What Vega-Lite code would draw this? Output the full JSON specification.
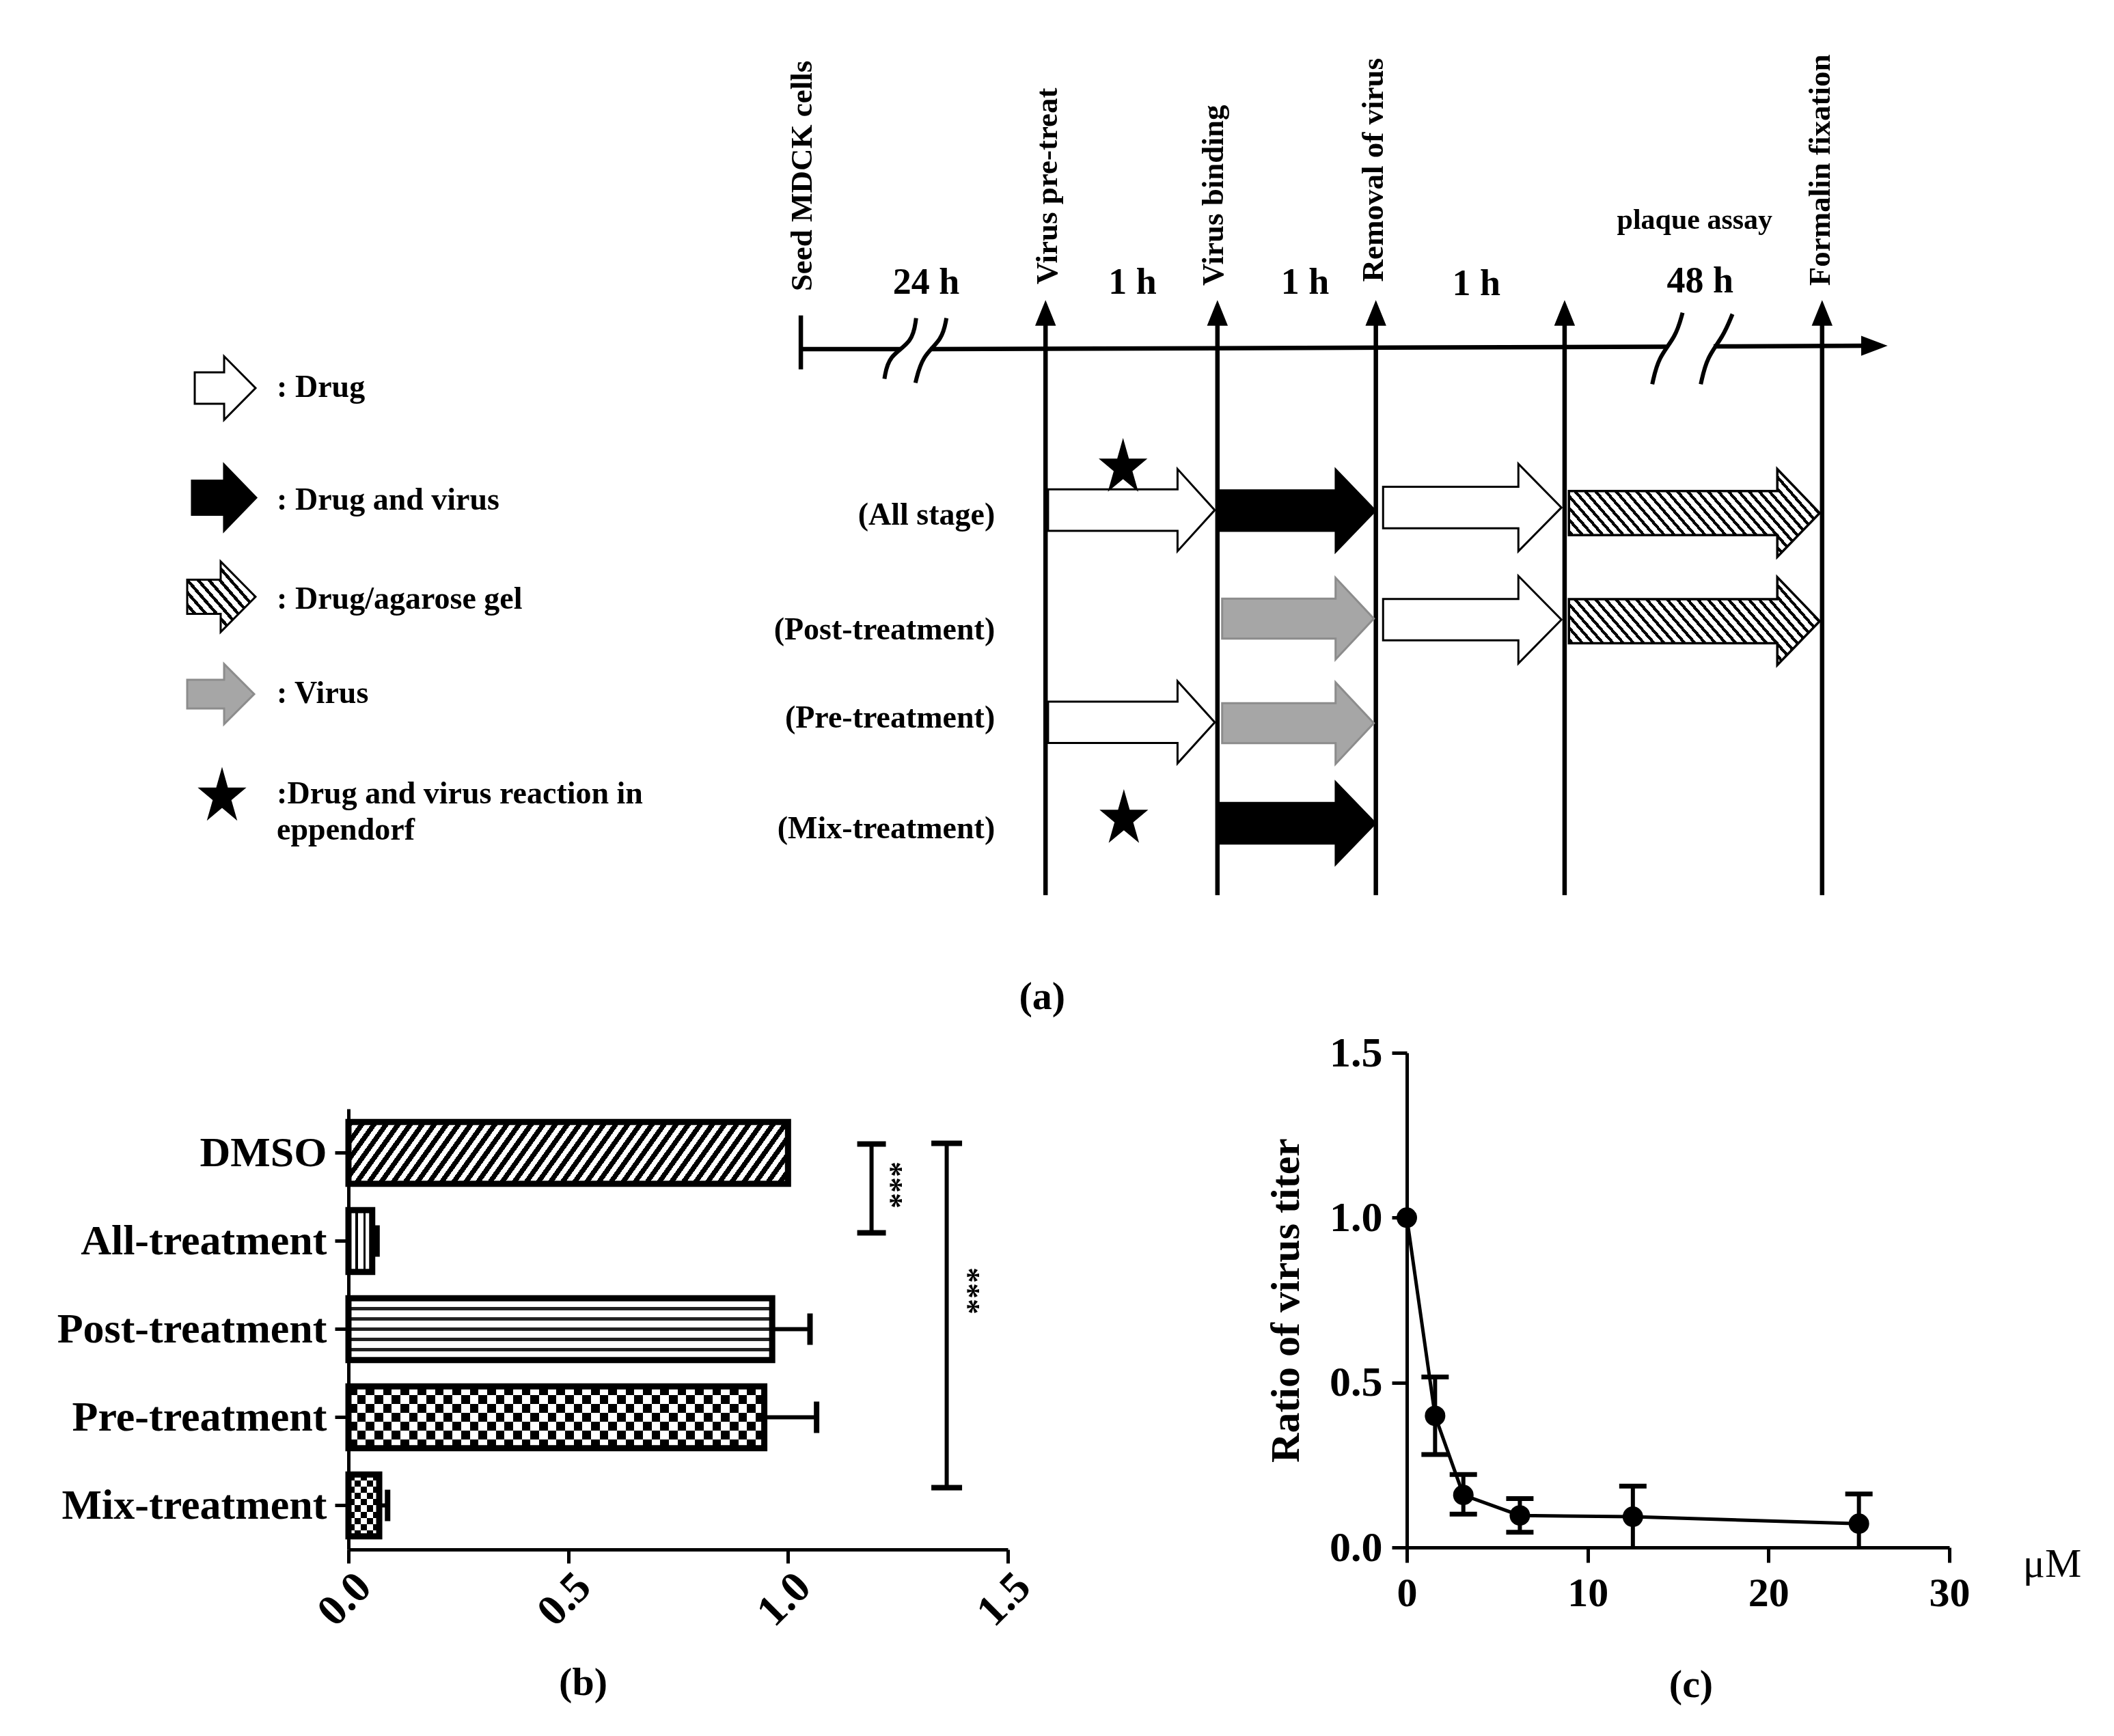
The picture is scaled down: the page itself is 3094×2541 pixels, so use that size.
{
"$schema":"https://vega.github.io/schema/vega-lite/v6.json",
"padding":0,
"background":"#ffffff",
"spacing":0,
"bounds":"flush",
"config":{"view":{"stroke":null},"font":"Liberation Serif","text":{"font":"Liberation Serif"},"axis":{"labelFont":"Liberation Serif","titleFont":"Liberation Serif"},"title":{"font":"Liberation Serif"}},
"datasets":{
"tl":[
{"x":594,"y":259,"x2":668,"y2":259},
{"x":690,"y":259,"x2":1236,"y2":257.2},
{"x":1271,"y":257,"x2":1390,"y2":256.5},
{"x":594,"y":234,"x2":594,"y2":274},
{"x":775.5,"y":233,"x2":775.5,"y2":664},
{"x":903,"y":233,"x2":903,"y2":664},
{"x":1020.5,"y":233,"x2":1020.5,"y2":664},
{"x":1160.5,"y":233,"x2":1160.5,"y2":664},
{"x":1351.5,"y":233,"x2":1351.5,"y2":664}],
"brk":[
{"id":"A","s":1,"x":679.5,"y":236},{"id":"A","s":2,"x":677,"y":254},{"id":"A","s":3,"x":659,"y":264},{"id":"A","s":4,"x":656,"y":281},
{"id":"B","s":1,"x":702,"y":236},{"id":"B","s":2,"x":699,"y":252},{"id":"B","s":3,"x":684,"y":264},{"id":"B","s":4,"x":679,"y":284},
{"id":"C","s":1,"x":1248,"y":232},{"id":"C","s":2,"x":1243,"y":250},{"id":"C","s":3,"x":1230,"y":265},{"id":"C","s":4,"x":1225.5,"y":285},
{"id":"D","s":1,"x":1285,"y":233},{"id":"D","s":2,"x":1278,"y":250},{"id":"D","s":3,"x":1266,"y":265},{"id":"D","s":4,"x":1261.5,"y":285}],
"sym":[
{"k":"drug1","x":839.2,"y":378.4},
{"k":"dv","x":962.1,"y":378.8},
{"k":"drug3","x":1092,"y":376.5},
{"k":"virus","x":962.75,"y":458.9},
{"k":"drug3","x":1092,"y":459.7},
{"k":"drug1","x":839.2,"y":535.8},
{"k":"virus","x":962.75,"y":536.5},
{"k":"dv","x":962.1,"y":610.7},
{"k":"Ldrug","x":167,"y":287.9},
{"k":"Ldv","x":166.2,"y":369.2},
{"k":"Lvirus","x":163.7,"y":514.9},
{"k":"star","x":833,"y":347},
{"k":"star","x":833.6,"y":607.5},
{"k":"star","x":164.7,"y":591},
{"k":"up","x":775.5,"y":232.7},
{"k":"up","x":903,"y":232.7},
{"k":"up","x":1020.5,"y":232.7},
{"k":"up","x":1160.5,"y":232.7},
{"k":"up","x":1351.5,"y":232.7},
{"k":"right","x":1389.6,"y":256.5}],
"gel":[
{"k":"gel","x":1256.7,"y":380.6},
{"k":"gel","x":1256.7,"y":460.8},
{"k":"Lgel","x":164.2,"y":442.7}],
"tx":[
{"c":"v","x":595,"y":216,"t":"Seed MDCK cells"},
{"c":"v","x":777,"y":211,"t":"Virus pre-treat"},
{"c":"v","x":900,"y":212,"t":"Virus binding"},
{"c":"v","x":1018.5,"y":209,"t":"Removal of virus"},
{"c":"v","x":1350,"y":212,"t":"Formalin fixation"},
{"c":"d","x":687,"y":210,"t":"24 h"},
{"c":"d","x":840,"y":210,"t":"1 h"},
{"c":"d","x":968,"y":210,"t":"1 h"},
{"c":"d","x":1095,"y":211,"t":"1 h"},
{"c":"d","x":1261,"y":209,"t":"48 h"},
{"c":"p","x":1257,"y":163,"t":"plaque assay"},
{"c":"r","x":738,"y":382,"t":"(All stage)"},
{"c":"r","x":738,"y":467.5,"t":"(Post-treatment)"},
{"c":"r","x":738,"y":532.6,"t":"(Pre-treatment)"},
{"c":"r","x":738,"y":615,"t":"(Mix-treatment)"},
{"c":"l","x":205.3,"y":287.4,"t":": Drug"},
{"c":"l","x":205.3,"y":371,"t":": Drug and virus"},
{"c":"l","x":205.3,"y":444.5,"t":": Drug/agarose gel"},
{"c":"l","x":205.3,"y":514.4,"t":": Virus"},
{"c":"l","x":205.3,"y":589,"t":":Drug and virus reaction in"},
{"c":"l","x":205.3,"y":615.8,"t":"eppendorf"},
{"c":"a","x":773,"y":740,"t":"(a)"}],
"bars":[
{"g":"DMSO","v":1.0,"hi":1.0},
{"g":"All-treatment","v":0.054,"hi":0.065},
{"g":"Post-treatment","v":0.964,"hi":1.05},
{"g":"Pre-treatment","v":0.946,"hi":1.065},
{"g":"Mix-treatment","v":0.07,"hi":0.089}],
"sig1":[{"x":1.19,"sx":1.233,"from":"DMSO","to":"All-treatment","lab":"***"}],
"sig2":[{"x":1.361,"sx":1.408,"from":"DMSO","to":"Mix-treatment","lab":"***"}],
"titer":[
{"c":0,"r":1.0,"lo":1.0,"hi":1.0},
{"c":1.5625,"r":0.399,"lo":0.282,"hi":0.517},
{"c":3.125,"r":0.159,"lo":0.101,"hi":0.221},
{"c":6.25,"r":0.097,"lo":0.046,"hi":0.148},
{"c":12.5,"r":0.093,"lo":0.0,"hi":0.186},
{"c":25,"r":0.072,"lo":0.0,"hi":0.162}]
},
"vconcat":[
{
"width":3094,"height":1541,
"encoding":{
"x":{"field":"x","type":"quantitative","scale":{"domain":[0,1568],"nice":false,"zero":false},"axis":null},
"y":{"field":"y","type":"quantitative","scale":{"domain":[0,781],"nice":false,"zero":false,"reverse":true},"axis":null}
},
"layer":[
{"data":{"name":"tl"},"mark":{"type":"rule","strokeWidth":6.5,"color":"#000"},"encoding":{"x2":{"field":"x2"},"y2":{"field":"y2"}}},
{"data":{"name":"brk"},"mark":{"type":"line","interpolate":"basis","strokeWidth":6,"color":"#000"},"encoding":{"detail":{"field":"id","type":"nominal"},"order":{"field":"s","type":"quantitative"}}},
{"data":{"name":"sym"},"mark":{"type":"point","filled":true,"size":40000,"strokeWidth":3,"opacity":1},"encoding":{
"shape":{"field":"k","type":"nominal","legend":null,"scale":{"domain":["drug1","drug3","dv","virus","Ldrug","Ldv","Lvirus","star","up","right"],"range":[
"M-1.22,-0.303L0.675,-0.303L0.675,-0.601L1.22,0L0.675,0.601L0.675,0.303L-1.22,0.303Z",
"M-1.305,-0.303L0.675,-0.303L0.675,-0.64L1.305,0L0.675,0.64L0.675,0.303L-1.305,0.303Z",
"M-1.145,-0.297L0.565,-0.297L0.565,-0.601L1.145,0L0.565,0.601L0.565,0.297L-1.145,0.297Z",
"M-1.11,-0.292L0.55,-0.292L0.55,-0.597L1.11,0L0.55,0.597L0.55,0.292L-1.11,0.292Z",
"M-0.445,-0.23L-0.015,-0.23L-0.015,-0.465L0.445,0L-0.015,0.465L-0.015,0.23L-0.445,0.23Z",
"M-0.47,-0.25L0,-0.25L0,-0.485L0.47,0L0,0.485L0,0.25L-0.47,0.25Z",
"M-0.49,-0.21L0.05,-0.21L0.05,-0.44L0.49,0L0.05,0.44L0.05,0.21L-0.49,0.21Z",
"M0,-0.381L0.0745,-0.118L0.315,-0.118L0.12,0.045L0.195,0.308L0,0.146L-0.195,0.308L-0.12,0.045L-0.315,-0.118L-0.0745,-0.118Z",
"M0,-0.16L0.13,0.16L-0.13,0.16Z",
"M0.165,0L-0.165,-0.125L-0.165,0.125Z"]}},
"fill":{"field":"k","type":"nominal","legend":null,"scale":{"domain":["drug1","drug3","dv","virus","Ldrug","Ldv","Lvirus","star","up","right"],"range":["#fff","#fff","#000","#a6a6a6","#fff","#000","#a6a6a6","#000","#000","#000"]}},
"stroke":{"field":"k","type":"nominal","legend":null,"scale":{"domain":["drug1","drug3","dv","virus","Ldrug","Ldv","Lvirus","star","up","right"],"range":["#000","#000","#000","#8c8c8c","#000","#000","#8c8c8c","#000","#000","#000"]}}
}},
{"data":{"name":"gel"},"transform":[{"filter":"datum.k==='gel'"}],"mark":{"type":"point","filled":true,"size":40000,"opacity":1,"stroke":"#000","strokeWidth":3.5,
"shape":"M-1.835,-0.323L1.215,-0.323L1.215,-0.643L1.835,0L1.215,0.643L1.215,0.323L-1.835,0.323Z",
"fill":{"gradient":"linear","x1":0,"y1":1,"x2":1.194,"y2":0.636,"stops":[
{"offset":0,"color":"#000"},{"offset":0.0119,"color":"#000"},{"offset":0.0119,"color":"#fff"},{"offset":0.0313,"color":"#fff"},
{"offset":0.0313,"color":"#000"},{"offset":0.0431,"color":"#000"},{"offset":0.0431,"color":"#fff"},{"offset":0.0625,"color":"#fff"},
{"offset":0.0625,"color":"#000"},{"offset":0.0744,"color":"#000"},{"offset":0.0744,"color":"#fff"},{"offset":0.0938,"color":"#fff"},
{"offset":0.0938,"color":"#000"},{"offset":0.1056,"color":"#000"},{"offset":0.1056,"color":"#fff"},{"offset":0.125,"color":"#fff"},
{"offset":0.125,"color":"#000"},{"offset":0.1369,"color":"#000"},{"offset":0.1369,"color":"#fff"},{"offset":0.1563,"color":"#fff"},
{"offset":0.1563,"color":"#000"},{"offset":0.1681,"color":"#000"},{"offset":0.1681,"color":"#fff"},{"offset":0.1875,"color":"#fff"},
{"offset":0.1875,"color":"#000"},{"offset":0.1994,"color":"#000"},{"offset":0.1994,"color":"#fff"},{"offset":0.2188,"color":"#fff"},
{"offset":0.2188,"color":"#000"},{"offset":0.2306,"color":"#000"},{"offset":0.2306,"color":"#fff"},{"offset":0.25,"color":"#fff"},
{"offset":0.25,"color":"#000"},{"offset":0.2619,"color":"#000"},{"offset":0.2619,"color":"#fff"},{"offset":0.2813,"color":"#fff"},
{"offset":0.2813,"color":"#000"},{"offset":0.2931,"color":"#000"},{"offset":0.2931,"color":"#fff"},{"offset":0.3125,"color":"#fff"},
{"offset":0.3125,"color":"#000"},{"offset":0.3244,"color":"#000"},{"offset":0.3244,"color":"#fff"},{"offset":0.3438,"color":"#fff"},
{"offset":0.3438,"color":"#000"},{"offset":0.3556,"color":"#000"},{"offset":0.3556,"color":"#fff"},{"offset":0.375,"color":"#fff"},
{"offset":0.375,"color":"#000"},{"offset":0.3869,"color":"#000"},{"offset":0.3869,"color":"#fff"},{"offset":0.4063,"color":"#fff"},
{"offset":0.4063,"color":"#000"},{"offset":0.4181,"color":"#000"},{"offset":0.4181,"color":"#fff"},{"offset":0.4375,"color":"#fff"},
{"offset":0.4375,"color":"#000"},{"offset":0.4494,"color":"#000"},{"offset":0.4494,"color":"#fff"},{"offset":0.4688,"color":"#fff"},
{"offset":0.4688,"color":"#000"},{"offset":0.4806,"color":"#000"},{"offset":0.4806,"color":"#fff"},{"offset":0.5,"color":"#fff"},
{"offset":0.5,"color":"#000"},{"offset":0.5119,"color":"#000"},{"offset":0.5119,"color":"#fff"},{"offset":0.5313,"color":"#fff"},
{"offset":0.5313,"color":"#000"},{"offset":0.5431,"color":"#000"},{"offset":0.5431,"color":"#fff"},{"offset":0.5625,"color":"#fff"},
{"offset":0.5625,"color":"#000"},{"offset":0.5744,"color":"#000"},{"offset":0.5744,"color":"#fff"},{"offset":0.5938,"color":"#fff"},
{"offset":0.5938,"color":"#000"},{"offset":0.6056,"color":"#000"},{"offset":0.6056,"color":"#fff"},{"offset":0.625,"color":"#fff"},
{"offset":0.625,"color":"#000"},{"offset":0.6369,"color":"#000"},{"offset":0.6369,"color":"#fff"},{"offset":0.6563,"color":"#fff"},
{"offset":0.6563,"color":"#000"},{"offset":0.6681,"color":"#000"},{"offset":0.6681,"color":"#fff"},{"offset":0.6875,"color":"#fff"},
{"offset":0.6875,"color":"#000"},{"offset":0.6994,"color":"#000"},{"offset":0.6994,"color":"#fff"},{"offset":0.7188,"color":"#fff"},
{"offset":0.7188,"color":"#000"},{"offset":0.7306,"color":"#000"},{"offset":0.7306,"color":"#fff"},{"offset":0.75,"color":"#fff"},
{"offset":0.75,"color":"#000"},{"offset":0.7619,"color":"#000"},{"offset":0.7619,"color":"#fff"},{"offset":0.7813,"color":"#fff"},
{"offset":0.7813,"color":"#000"},{"offset":0.7931,"color":"#000"},{"offset":0.7931,"color":"#fff"},{"offset":0.8125,"color":"#fff"},
{"offset":0.8125,"color":"#000"},{"offset":0.8244,"color":"#000"},{"offset":0.8244,"color":"#fff"},{"offset":0.8438,"color":"#fff"},
{"offset":0.8438,"color":"#000"},{"offset":0.8556,"color":"#000"},{"offset":0.8556,"color":"#fff"},{"offset":0.875,"color":"#fff"},
{"offset":0.875,"color":"#000"},{"offset":0.8869,"color":"#000"},{"offset":0.8869,"color":"#fff"},{"offset":0.9063,"color":"#fff"},
{"offset":0.9063,"color":"#000"},{"offset":0.9181,"color":"#000"},{"offset":0.9181,"color":"#fff"},{"offset":0.9375,"color":"#fff"},
{"offset":0.9375,"color":"#000"},{"offset":0.9494,"color":"#000"},{"offset":0.9494,"color":"#fff"},{"offset":0.9688,"color":"#fff"},
{"offset":0.9688,"color":"#000"},{"offset":0.9806,"color":"#000"},{"offset":0.9806,"color":"#fff"},{"offset":1,"color":"#fff"}]}}},
{"data":{"name":"gel"},"transform":[{"filter":"datum.k==='Lgel'"}],"mark":{"type":"point","filled":true,"size":40000,"opacity":1,"stroke":"#000","strokeWidth":3,
"shape":"M-0.5,-0.25L-0.01,-0.25L-0.01,-0.515L0.5,0L-0.01,0.515L-0.01,0.25L-0.5,0.25Z",
"fill":{"gradient":"linear","x1":0,"y1":1,"x2":1.052,"y2":0.058,"stops":[
{"offset":0,"color":"#000"},{"offset":0.0317,"color":"#000"},{"offset":0.0317,"color":"#fff"},{"offset":0.0833,"color":"#fff"},
{"offset":0.0833,"color":"#000"},{"offset":0.115,"color":"#000"},{"offset":0.115,"color":"#fff"},{"offset":0.1667,"color":"#fff"},
{"offset":0.1667,"color":"#000"},{"offset":0.1983,"color":"#000"},{"offset":0.1983,"color":"#fff"},{"offset":0.25,"color":"#fff"},
{"offset":0.25,"color":"#000"},{"offset":0.2817,"color":"#000"},{"offset":0.2817,"color":"#fff"},{"offset":0.3333,"color":"#fff"},
{"offset":0.3333,"color":"#000"},{"offset":0.365,"color":"#000"},{"offset":0.365,"color":"#fff"},{"offset":0.4167,"color":"#fff"},
{"offset":0.4167,"color":"#000"},{"offset":0.4483,"color":"#000"},{"offset":0.4483,"color":"#fff"},{"offset":0.5,"color":"#fff"},
{"offset":0.5,"color":"#000"},{"offset":0.5317,"color":"#000"},{"offset":0.5317,"color":"#fff"},{"offset":0.5833,"color":"#fff"},
{"offset":0.5833,"color":"#000"},{"offset":0.615,"color":"#000"},{"offset":0.615,"color":"#fff"},{"offset":0.6667,"color":"#fff"},
{"offset":0.6667,"color":"#000"},{"offset":0.6983,"color":"#000"},{"offset":0.6983,"color":"#fff"},{"offset":0.75,"color":"#fff"},
{"offset":0.75,"color":"#000"},{"offset":0.7817,"color":"#000"},{"offset":0.7817,"color":"#fff"},{"offset":0.8333,"color":"#fff"},
{"offset":0.8333,"color":"#000"},{"offset":0.865,"color":"#000"},{"offset":0.865,"color":"#fff"},{"offset":0.9167,"color":"#fff"},
{"offset":0.9167,"color":"#000"},{"offset":0.9483,"color":"#000"},{"offset":0.9483,"color":"#fff"},{"offset":1,"color":"#fff"}]}}},
{"data":{"name":"tx"},"transform":[{"filter":"datum.c==='v'"}],"mark":{"type":"text","angle":270,"align":"left","baseline":"middle","fontSize":45,"fontWeight":"bold","font":"Liberation Serif","color":"#000"},"encoding":{"text":{"field":"t","type":"nominal"}}},
{"data":{"name":"tx"},"transform":[{"filter":"datum.c==='d'"}],"mark":{"type":"text","align":"center","baseline":"middle","fontSize":54,"fontWeight":"bold","font":"Liberation Serif","color":"#000"},"encoding":{"text":{"field":"t","type":"nominal"}}},
{"data":{"name":"tx"},"transform":[{"filter":"datum.c==='p'"}],"mark":{"type":"text","align":"center","baseline":"middle","fontSize":42,"fontWeight":"bold","font":"Liberation Serif","color":"#000"},"encoding":{"text":{"field":"t","type":"nominal"}}},
{"data":{"name":"tx"},"transform":[{"filter":"datum.c==='r'"}],"mark":{"type":"text","align":"right","baseline":"middle","fontSize":46,"fontWeight":"bold","font":"Liberation Serif","color":"#000"},"encoding":{"text":{"field":"t","type":"nominal"}}},
{"data":{"name":"tx"},"transform":[{"filter":"datum.c==='l'"}],"mark":{"type":"text","align":"left","baseline":"middle","fontSize":46,"fontWeight":"bold","font":"Liberation Serif","color":"#000"},"encoding":{"text":{"field":"t","type":"nominal"}}},
{"data":{"name":"tx"},"transform":[{"filter":"datum.c==='a'"}],"mark":{"type":"text","align":"center","baseline":"middle","fontSize":58,"fontWeight":"bold","font":"Liberation Serif","color":"#000"},"encoding":{"text":{"field":"t","type":"nominal"}}}
]
},
{
"hconcat":[
{"width":510,"height":10,"data":{"values":[{"s":1}]},"mark":{"type":"point","opacity":0}},
{
"width":965,"height":727,
"data":{"name":"bars"},
"encoding":{
"x":{"field":"v","type":"quantitative","scale":{"domain":[0,1.5],"nice":false,"zero":false},
"axis":{"values":[0,0.5,1,1.5],"format":".1f","labelAngle":-45,"labelFontSize":64,"labelFontWeight":"bold","labelColor":"#000","labelPadding":2,"labelFlush":false,"labelOverlap":false,"tickSize":20,"tickWidth":5,"tickColor":"#000","domainWidth":5,"domainColor":"#000","grid":false,"title":"(b)","titleX":343,"titleY":195,"titleAlign":"center","titleBaseline":"middle","titleFontSize":58,"titleFontWeight":"bold","titleColor":"#000"}},
"y":{"field":"g","type":"nominal","sort":null,"scale":{"domain":["DMSO","All-treatment","Post-treatment","Pre-treatment","Mix-treatment"],"paddingInner":0.3,"paddingOuter":0.15,"rangeMin":82},
"axis":{"labelFontSize":62,"labelFontWeight":"bold","labelColor":"#000","labelPadding":12,"labelLimit":2000,"tickSize":20,"tickWidth":5,"tickColor":"#000","domainWidth":5,"domainColor":"#000","title":null,"grid":false}}
},
"layer":[
{"transform":[{"filter":"datum.g==='DMSO'"}],"mark":{"type":"bar","strokeWidth":0,"fill":{"gradient":"linear","x1":0,"y1":0,"x2":1.0893,"y2":0.1093,"stops":[
{"offset":0,"color":"#000"},{"offset":0.0125,"color":"#000"},{"offset":0.0125,"color":"#fff"},{"offset":0.025,"color":"#fff"},
{"offset":0.025,"color":"#000"},{"offset":0.0375,"color":"#000"},{"offset":0.0375,"color":"#fff"},{"offset":0.05,"color":"#fff"},
{"offset":0.05,"color":"#000"},{"offset":0.0625,"color":"#000"},{"offset":0.0625,"color":"#fff"},{"offset":0.075,"color":"#fff"},
{"offset":0.075,"color":"#000"},{"offset":0.0875,"color":"#000"},{"offset":0.0875,"color":"#fff"},{"offset":0.1,"color":"#fff"},
{"offset":0.1,"color":"#000"},{"offset":0.1125,"color":"#000"},{"offset":0.1125,"color":"#fff"},{"offset":0.125,"color":"#fff"},
{"offset":0.125,"color":"#000"},{"offset":0.1375,"color":"#000"},{"offset":0.1375,"color":"#fff"},{"offset":0.15,"color":"#fff"},
{"offset":0.15,"color":"#000"},{"offset":0.1625,"color":"#000"},{"offset":0.1625,"color":"#fff"},{"offset":0.175,"color":"#fff"},
{"offset":0.175,"color":"#000"},{"offset":0.1875,"color":"#000"},{"offset":0.1875,"color":"#fff"},{"offset":0.2,"color":"#fff"},
{"offset":0.2,"color":"#000"},{"offset":0.2125,"color":"#000"},{"offset":0.2125,"color":"#fff"},{"offset":0.225,"color":"#fff"},
{"offset":0.225,"color":"#000"},{"offset":0.2375,"color":"#000"},{"offset":0.2375,"color":"#fff"},{"offset":0.25,"color":"#fff"},
{"offset":0.25,"color":"#000"},{"offset":0.2625,"color":"#000"},{"offset":0.2625,"color":"#fff"},{"offset":0.275,"color":"#fff"},
{"offset":0.275,"color":"#000"},{"offset":0.2875,"color":"#000"},{"offset":0.2875,"color":"#fff"},{"offset":0.3,"color":"#fff"},
{"offset":0.3,"color":"#000"},{"offset":0.3125,"color":"#000"},{"offset":0.3125,"color":"#fff"},{"offset":0.325,"color":"#fff"},
{"offset":0.325,"color":"#000"},{"offset":0.3375,"color":"#000"},{"offset":0.3375,"color":"#fff"},{"offset":0.35,"color":"#fff"},
{"offset":0.35,"color":"#000"},{"offset":0.3625,"color":"#000"},{"offset":0.3625,"color":"#fff"},{"offset":0.375,"color":"#fff"},
{"offset":0.375,"color":"#000"},{"offset":0.3875,"color":"#000"},{"offset":0.3875,"color":"#fff"},{"offset":0.4,"color":"#fff"},
{"offset":0.4,"color":"#000"},{"offset":0.4125,"color":"#000"},{"offset":0.4125,"color":"#fff"},{"offset":0.425,"color":"#fff"},
{"offset":0.425,"color":"#000"},{"offset":0.4375,"color":"#000"},{"offset":0.4375,"color":"#fff"},{"offset":0.45,"color":"#fff"},
{"offset":0.45,"color":"#000"},{"offset":0.4625,"color":"#000"},{"offset":0.4625,"color":"#fff"},{"offset":0.475,"color":"#fff"},
{"offset":0.475,"color":"#000"},{"offset":0.4875,"color":"#000"},{"offset":0.4875,"color":"#fff"},{"offset":0.5,"color":"#fff"},
{"offset":0.5,"color":"#000"},{"offset":0.5125,"color":"#000"},{"offset":0.5125,"color":"#fff"},{"offset":0.525,"color":"#fff"},
{"offset":0.525,"color":"#000"},{"offset":0.5375,"color":"#000"},{"offset":0.5375,"color":"#fff"},{"offset":0.55,"color":"#fff"},
{"offset":0.55,"color":"#000"},{"offset":0.5625,"color":"#000"},{"offset":0.5625,"color":"#fff"},{"offset":0.575,"color":"#fff"},
{"offset":0.575,"color":"#000"},{"offset":0.5875,"color":"#000"},{"offset":0.5875,"color":"#fff"},{"offset":0.6,"color":"#fff"},
{"offset":0.6,"color":"#000"},{"offset":0.6125,"color":"#000"},{"offset":0.6125,"color":"#fff"},{"offset":0.625,"color":"#fff"},
{"offset":0.625,"color":"#000"},{"offset":0.6375,"color":"#000"},{"offset":0.6375,"color":"#fff"},{"offset":0.65,"color":"#fff"},
{"offset":0.65,"color":"#000"},{"offset":0.6625,"color":"#000"},{"offset":0.6625,"color":"#fff"},{"offset":0.675,"color":"#fff"},
{"offset":0.675,"color":"#000"},{"offset":0.6875,"color":"#000"},{"offset":0.6875,"color":"#fff"},{"offset":0.7,"color":"#fff"},
{"offset":0.7,"color":"#000"},{"offset":0.7125,"color":"#000"},{"offset":0.7125,"color":"#fff"},{"offset":0.725,"color":"#fff"},
{"offset":0.725,"color":"#000"},{"offset":0.7375,"color":"#000"},{"offset":0.7375,"color":"#fff"},{"offset":0.75,"color":"#fff"},
{"offset":0.75,"color":"#000"},{"offset":0.7625,"color":"#000"},{"offset":0.7625,"color":"#fff"},{"offset":0.775,"color":"#fff"},
{"offset":0.775,"color":"#000"},{"offset":0.7875,"color":"#000"},{"offset":0.7875,"color":"#fff"},{"offset":0.8,"color":"#fff"},
{"offset":0.8,"color":"#000"},{"offset":0.8125,"color":"#000"},{"offset":0.8125,"color":"#fff"},{"offset":0.825,"color":"#fff"},
{"offset":0.825,"color":"#000"},{"offset":0.8375,"color":"#000"},{"offset":0.8375,"color":"#fff"},{"offset":0.85,"color":"#fff"},
{"offset":0.85,"color":"#000"},{"offset":0.8625,"color":"#000"},{"offset":0.8625,"color":"#fff"},{"offset":0.875,"color":"#fff"},
{"offset":0.875,"color":"#000"},{"offset":0.8875,"color":"#000"},{"offset":0.8875,"color":"#fff"},{"offset":0.9,"color":"#fff"},
{"offset":0.9,"color":"#000"},{"offset":0.9125,"color":"#000"},{"offset":0.9125,"color":"#fff"},{"offset":0.925,"color":"#fff"},
{"offset":0.925,"color":"#000"},{"offset":0.9375,"color":"#000"},{"offset":0.9375,"color":"#fff"},{"offset":0.95,"color":"#fff"},
{"offset":0.95,"color":"#000"},{"offset":0.9625,"color":"#000"},{"offset":0.9625,"color":"#fff"},{"offset":0.975,"color":"#fff"},
{"offset":0.975,"color":"#000"},{"offset":0.9875,"color":"#000"},{"offset":0.9875,"color":"#fff"},{"offset":1,"color":"#fff"}]}}},
{"transform":[{"filter":"datum.g==='All-treatment'"}],"mark":{"type":"bar","strokeWidth":0,"fill":{"gradient":"linear","x1":0,"y1":0,"x2":1,"y2":0,"stops":[
{"offset":0,"color":"#fff"},{"offset":0.3,"color":"#fff"},{"offset":0.3,"color":"#000"},{"offset":0.4,"color":"#000"},{"offset":0.4,"color":"#fff"},{"offset":0.62,"color":"#fff"},{"offset":0.62,"color":"#000"},{"offset":0.72,"color":"#000"},{"offset":0.72,"color":"#fff"},{"offset":1,"color":"#fff"}]}}},
{"transform":[{"filter":"datum.g==='Post-treatment'"}],"mark":{"type":"bar","strokeWidth":0,"fill":{"gradient":"linear","x1":0,"y1":0,"x2":0,"y2":1,"stops":[
{"offset":0,"color":"#fff"},{"offset":0.145,"color":"#fff"},{"offset":0.145,"color":"#222"},{"offset":0.195,"color":"#222"},{"offset":0.195,"color":"#fff"},
{"offset":0.31,"color":"#fff"},{"offset":0.31,"color":"#222"},{"offset":0.36,"color":"#222"},{"offset":0.36,"color":"#fff"},
{"offset":0.475,"color":"#fff"},{"offset":0.475,"color":"#222"},{"offset":0.525,"color":"#222"},{"offset":0.525,"color":"#fff"},
{"offset":0.64,"color":"#fff"},{"offset":0.64,"color":"#222"},{"offset":0.69,"color":"#222"},{"offset":0.69,"color":"#fff"},
{"offset":0.805,"color":"#fff"},{"offset":0.805,"color":"#222"},{"offset":0.855,"color":"#222"},{"offset":0.855,"color":"#fff"},{"offset":1,"color":"#fff"}]}}},
{"transform":[{"filter":"datum.g==='Pre-treatment'"}],"mark":{"type":"bar","strokeWidth":0,"fill":{"gradient":"linear","x1":0,"y1":0,"x2":1,"y2":0,"stops":[
{"offset":0,"color":"#000"},{"offset":0.0208,"color":"#000"},{"offset":0.0208,"color":"#fff"},{"offset":0.0417,"color":"#fff"},
{"offset":0.0417,"color":"#000"},{"offset":0.0625,"color":"#000"},{"offset":0.0625,"color":"#fff"},{"offset":0.0833,"color":"#fff"},
{"offset":0.0833,"color":"#000"},{"offset":0.1042,"color":"#000"},{"offset":0.1042,"color":"#fff"},{"offset":0.125,"color":"#fff"},
{"offset":0.125,"color":"#000"},{"offset":0.1458,"color":"#000"},{"offset":0.1458,"color":"#fff"},{"offset":0.1667,"color":"#fff"},
{"offset":0.1667,"color":"#000"},{"offset":0.1875,"color":"#000"},{"offset":0.1875,"color":"#fff"},{"offset":0.2083,"color":"#fff"},
{"offset":0.2083,"color":"#000"},{"offset":0.2292,"color":"#000"},{"offset":0.2292,"color":"#fff"},{"offset":0.25,"color":"#fff"},
{"offset":0.25,"color":"#000"},{"offset":0.2708,"color":"#000"},{"offset":0.2708,"color":"#fff"},{"offset":0.2917,"color":"#fff"},
{"offset":0.2917,"color":"#000"},{"offset":0.3125,"color":"#000"},{"offset":0.3125,"color":"#fff"},{"offset":0.3333,"color":"#fff"},
{"offset":0.3333,"color":"#000"},{"offset":0.3542,"color":"#000"},{"offset":0.3542,"color":"#fff"},{"offset":0.375,"color":"#fff"},
{"offset":0.375,"color":"#000"},{"offset":0.3958,"color":"#000"},{"offset":0.3958,"color":"#fff"},{"offset":0.4167,"color":"#fff"},
{"offset":0.4167,"color":"#000"},{"offset":0.4375,"color":"#000"},{"offset":0.4375,"color":"#fff"},{"offset":0.4583,"color":"#fff"},
{"offset":0.4583,"color":"#000"},{"offset":0.4792,"color":"#000"},{"offset":0.4792,"color":"#fff"},{"offset":0.5,"color":"#fff"},
{"offset":0.5,"color":"#000"},{"offset":0.5208,"color":"#000"},{"offset":0.5208,"color":"#fff"},{"offset":0.5417,"color":"#fff"},
{"offset":0.5417,"color":"#000"},{"offset":0.5625,"color":"#000"},{"offset":0.5625,"color":"#fff"},{"offset":0.5833,"color":"#fff"},
{"offset":0.5833,"color":"#000"},{"offset":0.6042,"color":"#000"},{"offset":0.6042,"color":"#fff"},{"offset":0.625,"color":"#fff"},
{"offset":0.625,"color":"#000"},{"offset":0.6458,"color":"#000"},{"offset":0.6458,"color":"#fff"},{"offset":0.6667,"color":"#fff"},
{"offset":0.6667,"color":"#000"},{"offset":0.6875,"color":"#000"},{"offset":0.6875,"color":"#fff"},{"offset":0.7083,"color":"#fff"},
{"offset":0.7083,"color":"#000"},{"offset":0.7292,"color":"#000"},{"offset":0.7292,"color":"#fff"},{"offset":0.75,"color":"#fff"},
{"offset":0.75,"color":"#000"},{"offset":0.7708,"color":"#000"},{"offset":0.7708,"color":"#fff"},{"offset":0.7917,"color":"#fff"},
{"offset":0.7917,"color":"#000"},{"offset":0.8125,"color":"#000"},{"offset":0.8125,"color":"#fff"},{"offset":0.8333,"color":"#fff"},
{"offset":0.8333,"color":"#000"},{"offset":0.8542,"color":"#000"},{"offset":0.8542,"color":"#fff"},{"offset":0.875,"color":"#fff"},
{"offset":0.875,"color":"#000"},{"offset":0.8958,"color":"#000"},{"offset":0.8958,"color":"#fff"},{"offset":0.9167,"color":"#fff"},
{"offset":0.9167,"color":"#000"},{"offset":0.9375,"color":"#000"},{"offset":0.9375,"color":"#fff"},{"offset":0.9583,"color":"#fff"},
{"offset":0.9583,"color":"#000"},{"offset":0.9792,"color":"#000"},{"offset":0.9792,"color":"#fff"},{"offset":1,"color":"#fff"}]}}},
{"transform":[{"filter":"datum.g==='Pre-treatment'"}],"mark":{"type":"bar","strokeWidth":0,"blend":"difference","fill":{"gradient":"linear","x1":0,"y1":0,"x2":0,"y2":1,"stops":[
{"offset":0,"color":"#000"},{"offset":0.1429,"color":"#000"},{"offset":0.1429,"color":"#fff"},{"offset":0.2857,"color":"#fff"},
{"offset":0.2857,"color":"#000"},{"offset":0.4286,"color":"#000"},{"offset":0.4286,"color":"#fff"},{"offset":0.5714,"color":"#fff"},
{"offset":0.5714,"color":"#000"},{"offset":0.7143,"color":"#000"},{"offset":0.7143,"color":"#fff"},{"offset":0.8571,"color":"#fff"},
{"offset":0.8571,"color":"#000"},{"offset":1,"color":"#000"}]}}},
{"transform":[{"filter":"datum.g==='Mix-treatment'"}],"mark":{"type":"bar","strokeWidth":0,"fill":{"gradient":"linear","x1":0,"y1":0,"x2":1,"y2":0,"stops":[
{"offset":0,"color":"#000"},{"offset":0.2,"color":"#000"},{"offset":0.2,"color":"#fff"},{"offset":0.4,"color":"#fff"},{"offset":0.4,"color":"#000"},{"offset":0.6,"color":"#000"},{"offset":0.6,"color":"#fff"},{"offset":0.8,"color":"#fff"},{"offset":0.8,"color":"#000"},{"offset":1,"color":"#000"}]}}},
{"transform":[{"filter":"datum.g==='Mix-treatment'"}],"mark":{"type":"bar","strokeWidth":0,"blend":"difference","fill":{"gradient":"linear","x1":0,"y1":0,"x2":0,"y2":1,"stops":[
{"offset":0,"color":"#000"},{"offset":0.1,"color":"#000"},{"offset":0.1,"color":"#fff"},{"offset":0.2,"color":"#fff"},{"offset":0.2,"color":"#000"},{"offset":0.3,"color":"#000"},{"offset":0.3,"color":"#fff"},{"offset":0.4,"color":"#fff"},{"offset":0.4,"color":"#000"},{"offset":0.5,"color":"#000"},{"offset":0.5,"color":"#fff"},{"offset":0.6,"color":"#fff"},{"offset":0.6,"color":"#000"},{"offset":0.7,"color":"#000"},{"offset":0.7,"color":"#fff"},{"offset":0.8,"color":"#fff"},{"offset":0.8,"color":"#000"},{"offset":0.9,"color":"#000"},{"offset":0.9,"color":"#fff"},{"offset":1,"color":"#fff"}]}}},
{"mark":{"type":"bar","fillOpacity":0,"stroke":"#000","strokeWidth":9}},
{"transform":[{"filter":"datum.hi>datum.v"}],"mark":{"type":"rule","strokeWidth":6,"color":"#000"},"encoding":{"x2":{"field":"hi"}}},
{"transform":[{"filter":"datum.hi>datum.v"}],"mark":{"type":"tick","size":46,"thickness":8,"color":"#000","opacity":1},"encoding":{"x":{"field":"hi","type":"quantitative","scale":{"domain":[0,1.5],"nice":false,"zero":false}}}},
{"data":{"name":"sig1"},"mark":{"type":"rule","strokeWidth":6,"color":"#000","yOffset":-13,"y2Offset":-12},"encoding":{"x":{"field":"x","type":"quantitative","scale":{"domain":[0,1.5],"nice":false,"zero":false}},"y":{"field":"from","type":"nominal","bandPosition":0.5},"y2":{"field":"to","bandPosition":0.5}}},
{"data":{"name":"sig1"},"mark":{"type":"point","shape":"M-1,0L1,0","size":1764,"filled":false,"strokeWidth":8,"color":"#000","opacity":1,"yOffset":-13},"encoding":{"x":{"field":"x","type":"quantitative","scale":{"domain":[0,1.5],"nice":false,"zero":false}},"y":{"field":"from","type":"nominal"}}},
{"data":{"name":"sig1"},"mark":{"type":"point","shape":"M-1,0L1,0","size":1764,"filled":false,"strokeWidth":8,"color":"#000","opacity":1,"yOffset":-12},"encoding":{"x":{"field":"x","type":"quantitative","scale":{"domain":[0,1.5],"nice":false,"zero":false}},"y":{"field":"to","type":"nominal"}}},
{"data":{"name":"sig1"},"mark":{"type":"text","angle":90,"fontSize":46,"fontWeight":"bold","align":"center","baseline":"middle","color":"#000","yOffset":47},"encoding":{"x":{"field":"sx","type":"quantitative","scale":{"domain":[0,1.5],"nice":false,"zero":false}},"y":{"field":"from","type":"nominal"},"text":{"field":"lab"}}},
{"data":{"name":"sig2"},"mark":{"type":"rule","strokeWidth":6,"color":"#000","yOffset":-14,"y2Offset":-26},"encoding":{"x":{"field":"x","type":"quantitative","scale":{"domain":[0,1.5],"nice":false,"zero":false}},"y":{"field":"from","type":"nominal","bandPosition":0.5},"y2":{"field":"to","bandPosition":0.5}}},
{"data":{"name":"sig2"},"mark":{"type":"point","shape":"M-1,0L1,0","size":2025,"filled":false,"strokeWidth":8,"color":"#000","opacity":1,"yOffset":-14},"encoding":{"x":{"field":"x","type":"quantitative","scale":{"domain":[0,1.5],"nice":false,"zero":false}},"y":{"field":"from","type":"nominal"}}},
{"data":{"name":"sig2"},"mark":{"type":"point","shape":"M-1,0L1,0","size":2025,"filled":false,"strokeWidth":8,"color":"#000","opacity":1,"yOffset":-26},"encoding":{"x":{"field":"x","type":"quantitative","scale":{"domain":[0,1.5],"nice":false,"zero":false}},"y":{"field":"to","type":"nominal"}}},
{"data":{"name":"sig2"},"mark":{"type":"text","angle":90,"fontSize":46,"fontWeight":"bold","align":"center","baseline":"middle","color":"#000","yOffset":202},"encoding":{"x":{"field":"sx","type":"quantitative","scale":{"domain":[0,1.5],"nice":false,"zero":false}},"y":{"field":"from","type":"nominal"},"text":{"field":"lab"}}}
]
},
{"width":584,"height":10,"data":{"values":[{"s":1}]},"mark":{"type":"point","opacity":0}},
{
"width":794,"height":724,
"title":{"text":"(c)","orient":"bottom","anchor":"middle","frame":"group","fontSize":58,"fontWeight":"bold","color":"#000","offset":76,"dx":19},
"data":{"name":"titer"},
"encoding":{
"x":{"field":"c","type":"quantitative","scale":{"domain":[0,30],"nice":false,"zero":false},
"axis":{"values":[0,10,20,30],"format":"d","labelFontSize":60,"labelFontWeight":"bold","labelColor":"#000","labelPadding":16,"labelFlush":false,"tickSize":22,"tickWidth":5,"tickColor":"#000","domainWidth":5,"domainColor":"#000","grid":false,"title":"μM","titleX":944,"titleY":24,"titleAlign":"center","titleBaseline":"middle","titleFontSize":60,"titleFontWeight":"normal","titleColor":"#000"}},
"y":{"field":"r","type":"quantitative","scale":{"domain":[0,1.5],"nice":false,"zero":false},
"axis":{"values":[0,0.5,1,1.5],"format":".1f","labelFontSize":62,"labelFontWeight":"bold","labelColor":"#000","labelPadding":14,"tickSize":22,"tickWidth":5,"tickColor":"#000","domainWidth":5,"domainColor":"#000","grid":false,"title":"Ratio of virus titer","titleFontSize":60,"titleFontWeight":"bold","titleColor":"#000","titlePadding":32}}
},
"layer":[
{"mark":{"type":"line","color":"#000","strokeWidth":5}},
{"transform":[{"filter":"datum.c>0"}],"mark":{"type":"rule","color":"#000","strokeWidth":6},"encoding":{"y":{"field":"lo","type":"quantitative","scale":{"domain":[0,1.5],"nice":false,"zero":false}},"y2":{"field":"hi"}}},
{"transform":[{"filter":"datum.c>0"}],"mark":{"type":"point","shape":"M-1,0L1,0","size":1600,"filled":false,"strokeWidth":7,"color":"#000","opacity":1},"encoding":{"y":{"field":"hi","type":"quantitative","scale":{"domain":[0,1.5],"nice":false,"zero":false}}}},
{"transform":[{"filter":"datum.c>0 && datum.lo>0"}],"mark":{"type":"point","shape":"M-1,0L1,0","size":1600,"filled":false,"strokeWidth":7,"color":"#000","opacity":1},"encoding":{"y":{"field":"lo","type":"quantitative","scale":{"domain":[0,1.5],"nice":false,"zero":false}}}},
{"mark":{"type":"point","filled":true,"size":900,"color":"#000","opacity":1}}
]
}
],
"spacing":0,"bounds":"flush"
}
]
}
